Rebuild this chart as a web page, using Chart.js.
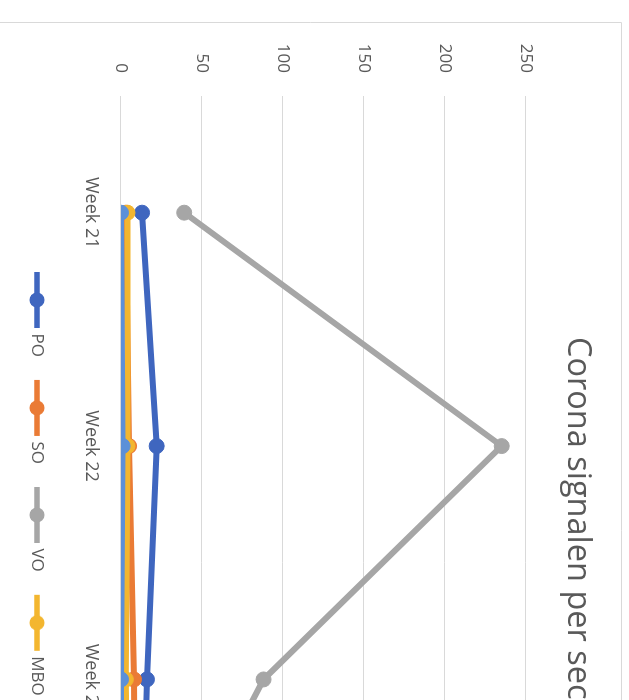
<!DOCTYPE html>
<html>
<head>
<meta charset="utf-8">
<script src="https://cdn.jsdelivr.net/npm/chart.js@4.4.0/dist/chart.umd.min.js"></script>
<style>
  html, body { margin: 0; padding: 0; background: #fff; }
  body { width: 629px; height: 700px; overflow: hidden; position: relative; }
  /* the scanned chart is turned a quarter clockwise, so the whole chart is rotated */
  #frame {
    position: absolute; left: 0; top: 0;
    width: 1016px; height: 622px;
    transform-origin: 0 0;
    transform: translate(622px, 22px) rotate(90deg);
    background: #fff;
  }
  #chart { position: absolute; left: 0; top: 0; }
</style>
</head>
<body>
<div id="frame"><canvas id="chart" width="1016" height="622"></canvas></div>
<script>
const weeks = ['Week 21', 'Week 22', 'Week 23', 'Week 24'];
const poValues = [13, 22, 16, 12];
const soValues = [3, 5, 8, 9];
const voValues = [39, 235, 88, 13];
const mboValues = [4, 4, 3, 5];
const hoValues = [0, 1, 0, 0];
const valueTicks = [0, 50, 100, 150, 200, 250];

const seriesNames = ['PO', 'SO', 'VO', 'MBO', 'HO'];
const seriesColors = ['#3f66bf', '#ea7b35', '#a6a6a6', '#f3b62f', '#5c90d8'];
const seriesValues = [poValues, soValues, voValues, mboValues, hoValues];

const textColor = '#595959';
const fontFamily = "'Open Sans', 'Noto Sans', sans-serif";

// line + marker swatch like the excel legend
function legendMark(color) {
    const c = document.createElement('canvas');
    c.width = 60;
    c.height = 16;
    const g = c.getContext('2d');
    g.strokeStyle = color;
    g.lineWidth = 5.5;
    g.beginPath();
    g.moveTo(2, 8);
    g.lineTo(58, 8);
    g.stroke();
    g.fillStyle = color;
    g.beginPath();
    g.arc(30, 8, 7.5, 0, Math.PI * 2);
    g.fill();
    return c;
}

const chartBorder = {
    id: 'chartBorder',
    beforeDraw(chart) {
        const ctx = chart.ctx;
        ctx.save();
        ctx.strokeStyle = '#d9d9d9';
        ctx.lineWidth = 1;
        ctx.beginPath();
        ctx.moveTo(0.5, chart.height);
        ctx.lineTo(0.5, 0.5);
        ctx.lineTo(chart.width, 0.5);
        ctx.stroke();
        ctx.restore();
    }
};

const datasets = seriesNames.map((name, i) => ({
    label: name,
    data: seriesValues[i],
    borderColor: seriesColors[i],
    backgroundColor: seriesColors[i],
    borderWidth: 6,
    pointRadius: 7.5,
    pointBorderWidth: 1,
    pointBackgroundColor: seriesColors[i],
    tension: 0,
    order: seriesNames.length - i
}));

function initChart() {
    const ctx = document.getElementById('chart').getContext('2d');
    new Chart(ctx, {
        type: 'line',
        data: {
            labels: weeks,
            datasets: datasets
        },
        options: {
            responsive: false,
            animation: false,
            devicePixelRatio: 1,
            layout: {
                padding: { left: 21, right: 0, top: 0, bottom: 18.5 }
            },
            plugins: {
                title: {
                    display: true,
                    text: 'Corona signalen per sector',
                    color: textColor,
                    font: { family: fontFamily, size: 32.5, weight: 'normal' },
                    padding: { top: 25.5, bottom: 31.5 }
                },
                legend: {
                    position: 'bottom',
                    labels: {
                        usePointStyle: true,
                        pointStyleWidth: 50,
                        padding: 26,
                        color: textColor,
                        font: { family: fontFamily, size: 17 },
                        sort: (a, b) => a.datasetIndex - b.datasetIndex,
                        generateLabels(chart) {
                            const items = Chart.defaults.plugins.legend.labels.generateLabels(chart);
                            items.forEach(item => {
                                item.pointStyle = legendMark(seriesColors[item.datasetIndex]);
                            });
                            return items;
                        }
                    }
                },
                tooltip: { enabled: false }
            },
            scales: {
                x: {
                    offset: true,
                    grid: { display: false, drawTicks: false },
                    border: { color: '#d9d9d9' },
                    afterFit: axis => { axis.height = 49.5; },
                    ticks: {
                        padding: 19.5,
                        maxRotation: 0,
                        autoSkip: false,
                        color: textColor,
                        font: { family: fontFamily, size: 18 }
                    }
                },
                y: {
                    min: 0,
                    max: 250,
                    afterBuildTicks: axis => {
                        axis.ticks = valueTicks.map(v => ({ value: v }));
                    },
                    afterFit: axis => { axis.width = 53; },
                    grid: { color: '#d9d9d9', drawTicks: false },
                    border: { display: false },
                    ticks: {
                        padding: 23,
                        color: textColor,
                        font: { family: fontFamily, size: 17 }
                    }
                }
            }
        },
        plugins: [chartBorder]
    });
}

initChart();
</script>
</body>
</html>
